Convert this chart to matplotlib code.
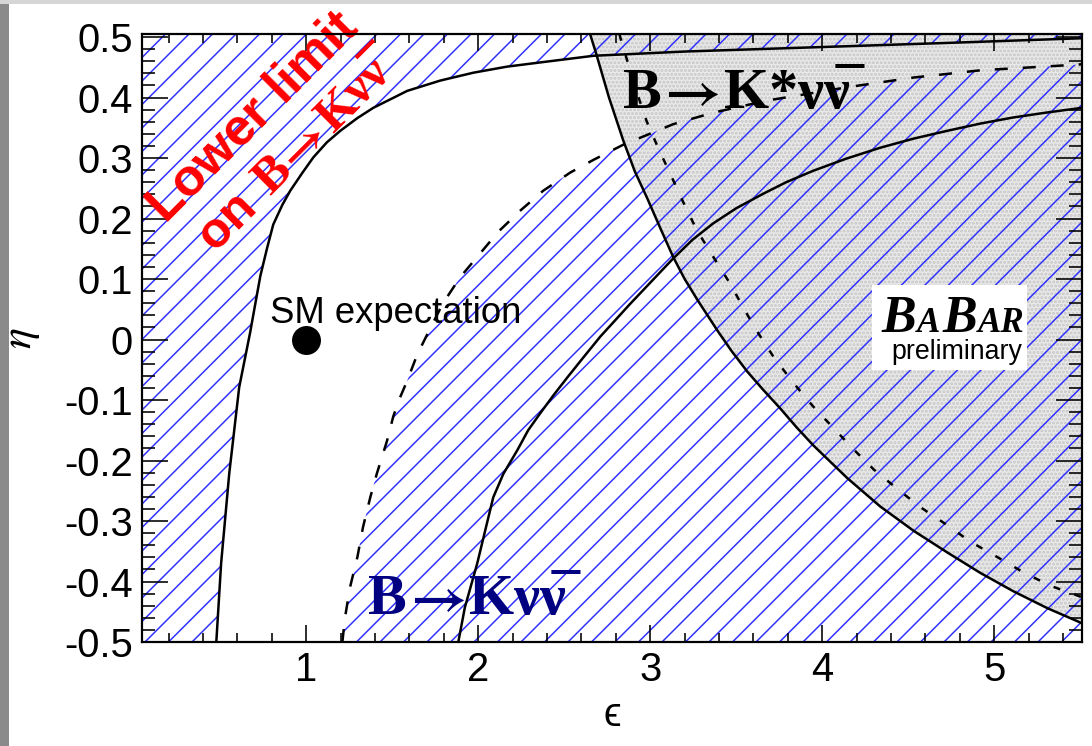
import matplotlib
matplotlib.use("Agg")
import matplotlib.pyplot as plt
import numpy as np
from matplotlib.collections import LineCollection
from matplotlib.font_manager import FontProperties
from matplotlib.patches import Rectangle
from matplotlib.transforms import ScaledTranslation
from matplotlib.ticker import MultipleLocator

# contours in the (epsilon, eta) plane
# observed lower limit on B -> K nu nu (solid, left)
low_eps = [0.477, 0.505, 0.552, 0.61, 0.674, 0.703, 0.733, 0.773, 0.808, 0.86, 0.907, 0.976,
           1.041, 1.12, 1.198, 1.297, 1.39, 1.587, 1.779, 1.971, 2.166, 2.36, 2.67, 3.2,
           3.95, 4.7, 5.51]
low_eta = [-0.50, -0.37, -0.222, -0.079, 0.012, 0.058, 0.105, 0.152, 0.19, 0.222, 0.246, 0.275,
           0.301, 0.326, 0.345, 0.366, 0.383, 0.411, 0.428, 0.441, 0.451, 0.458, 0.469, 0.476,
           0.483, 0.490, 0.498]

# expected upper limit on B -> K nu nu (dashed)
kexp_eps = [1.21, 1.225, 1.254, 1.297, 1.33, 1.372, 1.41, 1.47, 1.506, 1.545, 1.587, 1.645,
            1.72, 1.795, 1.895, 2.01, 2.116, 2.244, 2.378, 2.535, 2.67, 2.843, 3.134, 3.366,
            3.68, 4.145, 4.53, 4.92, 5.40, 5.51]
kexp_eta = [-0.50, -0.46, -0.41, -0.36, -0.31, -0.261, -0.222, -0.167, -0.127, -0.096, -0.068,
            -0.025, 0.018, 0.06, 0.103, 0.142, 0.178, 0.213, 0.246, 0.276, 0.297, 0.322, 0.356,
            0.375, 0.395, 0.417, 0.433, 0.445, 0.453, 0.455]

# observed upper limit on B -> K nu nu (solid)
kobs_eps = [1.884, 1.922, 1.994, 2.04, 2.087, 2.146, 2.227, 2.29, 2.36, 2.435, 2.517, 2.61,
            2.71, 2.80, 2.88, 2.98, 3.13, 3.246, 3.366, 3.5, 3.657, 3.79, 3.948, 4.14, 4.337,
            4.53, 4.727, 4.92, 5.11, 5.30, 5.51]
kobs_eta = [-0.50, -0.443, -0.37, -0.316, -0.261, -0.222, -0.183, -0.15, -0.122, -0.093,
            -0.063, -0.030, 0.005, 0.033, 0.058, 0.088, 0.133, 0.165, 0.192, 0.217, 0.241, 0.26,
            0.279, 0.299, 0.317, 0.332, 0.345, 0.357, 0.367, 0.375, 0.383]

# observed upper limit on B -> K* nu nu (solid)
kst_eps = [2.650, 2.686, 2.76, 2.843, 2.91, 2.98, 3.06, 3.134, 3.2, 3.273, 3.39, 3.47, 3.564,
           3.656, 3.756, 3.85, 3.948, 4.145, 4.337, 4.53, 4.727, 4.92, 5.11, 5.308, 5.51]
kst_eta = [0.505, 0.472, 0.40, 0.329, 0.278, 0.235, 0.183, 0.136, 0.100, 0.066, 0.015, -0.018,
           -0.053, -0.083, -0.114, -0.145, -0.175, -0.229, -0.276, -0.316, -0.352, -0.386,
           -0.416, -0.444, -0.469]

# expected upper limit on B -> K* nu nu (dashed)
kstexp_eps = [2.82, 2.866, 2.92, 2.98, 3.05, 3.116, 3.19, 3.27, 3.37, 3.465, 3.54, 3.62, 3.715,
              3.83, 3.948, 4.064, 4.18, 4.30, 4.45, 4.57, 4.727, 4.86, 5.02, 5.17, 5.326, 5.51]
kstexp_eta = [0.505, 0.461, 0.41, 0.36, 0.314, 0.274, 0.228, 0.181, 0.135, 0.092, 0.053, 0.014,
              -0.028, -0.071, -0.111, -0.146, -0.181, -0.215, -0.25, -0.277, -0.307, -0.334,
              -0.36, -0.385, -0.407, -0.426]

sm_point = (1.0, 0.0)

xlim = (0.045, 5.51)
ylim = (-0.5, 0.505)

W, H = 1092, 746
AX_W, AX_H = 940, 608
DPI = 141
PT = 72 / DPI  # points per output pixel


def px(v):
    return v * PT


plt.rcParams["lines.scale_dashes"] = False
plt.rcParams["font.family"] = ["Liberation Sans", "DejaVu Sans"]

fig = plt.figure(figsize=(W / DPI, H / DPI), dpi=DPI)
ax = fig.add_axes([142 / W, 104 / H, AX_W / W, AX_H / H])
ax.set_xlim(*xlim)
ax.set_ylim(*ylim)
renderer = fig.canvas.get_renderer()

blue = "#3030ff"
times = ["Liberation Serif", "DejaVu Serif"]
stix = ["STIXGeneral", "DejaVu Serif"]
sans = ["Liberation Sans", "DejaVu Sans"]


def hatch(region, spacing=23.5, lw=1.5):
    """Diagonal blue lines every `spacing` pixels, clipped to a filled region."""
    offs = np.arange(-AX_H, AX_W + spacing, spacing)
    segs = [[(o / AX_W, 0.0), ((o + AX_H) / AX_W, 1.0)] for o in offs]
    lc = LineCollection(segs, colors=blue, linewidths=px(lw), transform=ax.transAxes,
                        zorder=1.5)
    ax.add_collection(lc, autolim=False)
    lc.set_clip_path(region.get_paths()[0], ax.transData)


def text_run(x, y, pieces, rotation=0.0, color="black", zorder=4):
    """Write pieces in different fonts one after the other on a shared baseline."""
    ang = np.deg2rad(rotation)
    pos = 0.0
    for s, fam, size, weight, style, pad in pieces:
        fp = FontProperties(family=fam, size=px(size), weight=weight, style=style)
        off = ScaledTranslation(pos * np.cos(ang) / DPI, pos * np.sin(ang) / DPI,
                                fig.dpi_scale_trans)
        ax.text(x, y, s, fontproperties=fp, color=color, rotation=rotation,
                rotation_mode="anchor", ha="left", va="baseline",
                transform=ax.transData + off, zorder=zorder)
        w, _, _ = renderer.get_text_width_height_descent(s, fp, ismath=False)
        pos += w + pad


# B -> K* excluded area (stippled grey)
ax.fill_between(kst_eps, kst_eta, ylim[1], facecolor="#e8e8e8", edgecolor="#c6c6c6",
                hatch="......", linewidth=0, zorder=1)

# B -> K nu nu excluded areas (blue hatching)
above_low = ax.fill_between(np.r_[xlim[0], low_eps], np.r_[ylim[0], low_eta], ylim[1],
                            facecolor="none", linewidth=0)
below_exp = ax.fill_between(kexp_eps, ylim[0], kexp_eta, facecolor="none", linewidth=0)
hatch(above_low)
hatch(below_exp)

lw = px(2.5)
ax.plot(low_eps, low_eta, color="black", lw=lw, zorder=2)
ax.plot(kexp_eps, kexp_eta, color="black", lw=lw, ls=(0, (px(13), px(15))), zorder=2)
ax.plot(kobs_eps, kobs_eta, color="black", lw=lw, zorder=2)
ax.plot(kst_eps, kst_eta, color="black", lw=lw, zorder=2)
ax.plot(kstexp_eps, kstexp_eta, color="black", lw=lw, ls=(0, (px(7), px(15))), zorder=2)

ax.plot(*sm_point, "o", color="black", markersize=px(27), zorder=4)
ax.text(0.79, 0.028, "SM expectation", fontsize=px(36.5), ha="left", va="baseline", zorder=4)

# channel labels
nunubar = "\u03bd\u03bd\u0305"
text_run(2.84, 0.382, [("B", times, 58, "bold", "normal", 3),
                       ("\u2192", stix, 58, "bold", "normal", 3),
                       ("K*" + nunubar, times, 58, "bold", "normal", 0)])
text_run(1.359, -0.453, [("B", times, 58, "bold", "normal", 3),
                         ("\u2192", stix, 58, "bold", "normal", 3),
                         ("K" + nunubar, times, 58, "bold", "normal", 0)], color="#000080")

# rotated red annotation
red = "#ff0000"
ax.text(0.691, 0.367, "Lower limit", rotation=45, rotation_mode="anchor", ha="center",
        va="center", fontsize=px(52), fontweight="bold", color=red, zorder=4)
text_run(0.47, 0.145, [("on", sans, 50, "bold", "normal", 17),
                       ("B", times, 50, "bold", "normal", 3),
                       ("\u2192", stix, 50, "bold", "normal", 3),
                       ("K" + nunubar, times, 50, "bold", "normal", 0)],
         rotation=45, color=red)

# experiment logo
ax.add_patch(Rectangle((0.777, 0.447), 0.164, 0.140, transform=ax.transAxes,
                       facecolor="white", edgecolor="none", zorder=5))
text_run(4.344, 0.012, [("B", times, 52, "bold", "italic", 1),
                        ("A", times, 35, "bold", "italic", 2),
                        ("B", times, 52, "bold", "italic", 1),
                        ("AR", times, 35, "bold", "italic", 0)], zorder=6)
ax.text(4.40, -0.033, "preliminary", fontsize=px(26.8), ha="left", va="baseline", zorder=6)

# axes styling
ax.xaxis.set_major_locator(MultipleLocator(1))
ax.xaxis.set_minor_locator(MultipleLocator(0.2))
ax.yaxis.set_major_locator(MultipleLocator(0.1))
ax.yaxis.set_minor_locator(MultipleLocator(0.02))
yt = ax.get_yticks()
ax.set_yticks(yt)
ax.set_yticklabels(["0" if abs(v) < 1e-9 else f"{v:.1f}" for v in yt])
ax.set_ylim(*ylim)
ax.tick_params(which="both", direction="in", top=True, right=True, width=px(1.6),
               labelsize=px(40), colors="black")
ax.tick_params(axis="x", which="major", length=px(17), pad=px(9))
ax.tick_params(axis="x", which="minor", length=px(9))
ax.tick_params(axis="y", which="major", length=px(26), pad=px(9))
ax.tick_params(axis="y", which="minor", length=px(13))
for sp in ax.spines.values():
    sp.set_linewidth(px(2.2))
    sp.set_zorder(7)

ax.set_xlabel("\u03f5", fontsize=px(40), va="center")
ax.xaxis.set_label_coords(0.5, -0.12)
ax.set_ylabel("\u03b7", fontsize=px(44), family=stix, style="italic", va="center")
ax.yaxis.set_label_coords(-0.13, 0.5)

# slide frame
fig.add_artist(Rectangle((0, 0), 9 / W, 1, transform=fig.transFigure,
                         facecolor="#8a8a8a", edgecolor="none"))
fig.add_artist(Rectangle((0, 1 - 4 / H), 1, 4 / H, transform=fig.transFigure,
                         facecolor="#d6d6d6", edgecolor="none"))

fig.savefig("out.png", dpi=DPI)
